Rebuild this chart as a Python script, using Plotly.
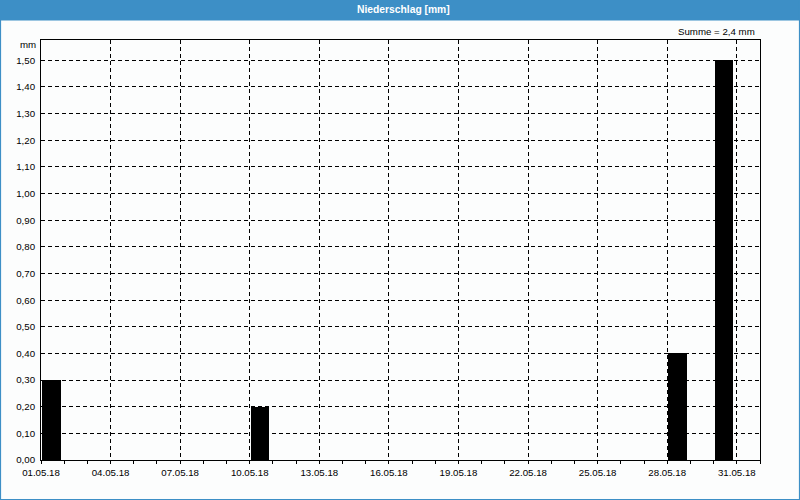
import plotly.graph_objects as go
import pandas as pd

# --- data ---
days = [f"2018-05-{d:02d}" for d in range(1, 32)]
precip_mm = [0.3, 0, 0, 0, 0, 0, 0, 0, 0, 0.2,
             0, 0, 0, 0, 0, 0, 0, 0, 0, 0,
             0, 0, 0, 0, 0, 0, 0, 0.4, 0, 1.5,
             0]
title_text = "Niederschlag [mm]"
unit_label = "mm"
total = sum(precip_mm)
sum_text = "Summe = " + f"{total:.1f}".replace(".", ",") + " mm"

DAY_MS = 86400000
W, H = 800, 500
ML, MR, MT, MB = 41, 40, 40, 40
PW, PH = W - ML - MR, H - MT - MB

def px_x(p):
    return (p - ML) / PW

def px_y(p):
    return (H - MB - p) / PH

FONT = "Liberation Sans"
fig = go.Figure()
fig.add_trace(go.Bar(
    x=days, y=precip_mm,
    width=0.8 * DAY_MS, offset=0.05 * DAY_MS,
    marker=dict(color="#000000", line=dict(width=0)),
    hoverinfo="x+y",
))

fig.update_layout(
    width=W, height=H,
    margin=dict(l=ML, r=MR, t=MT, b=MB, pad=0),
    paper_bgcolor="#fcfdfd", plot_bgcolor="#fcfdfd",
    separators=",.",
    showlegend=False,
    font=dict(family=FONT, size=9.7, color="#000000"),
    bargap=0,
)

fig.update_xaxes(
    type="date",
    range=["2018-05-01", "2018-06-01"],
    tick0="2018-05-01", dtick=3 * DAY_MS,
    tickformat="%d.%m.%y",
    ticks="outside", ticklen=3, tickcolor="#000000", tickwidth=1,
    showgrid=True, gridcolor="#000000", gridwidth=1, griddash="4px,3px",
    showline=True, linecolor="#000000", linewidth=1, mirror=True,
    zeroline=False,
    minor=dict(dtick=DAY_MS, tick0="2018-05-01", ticks="outside", ticklen=3,
               tickcolor="#000000", showgrid=False),
    tickfont=dict(family=FONT, size=9.7, color="#000000"),
)

fig.update_yaxes(
    range=[0, 1.576],
    tick0=0, dtick=0.1,
    tickformat=".2f",
    ticks="", ticklabelstandoff=3,
    showgrid=True, gridcolor="#000000", gridwidth=1, griddash="4px,3px",
    showline=True, linecolor="#000000", linewidth=1, mirror=True,
    zeroline=False,
    tickfont=dict(family=FONT, size=9.7, color="#000000"),
)

# title bar + frame
fig.add_shape(type="rect", xref="paper", yref="paper",
              x0=px_x(0), x1=px_x(W), y0=px_y(20.5), y1=px_y(0),
              fillcolor="#3d8fc6", line=dict(width=0), layer="below")
fig.add_shape(type="rect", xref="paper", yref="paper",
              x0=px_x(0.5), x1=px_x(W - 0.5), y0=px_y(H - 0.5), y1=px_y(0.5),
              fillcolor="rgba(0,0,0,0)", line=dict(color="#3d8fc6", width=1.2))

fig.add_annotation(text="<b>" + title_text + "</b>", xref="paper", yref="paper",
                   x=px_x(403), y=px_y(9.5), xanchor="center", yanchor="middle",
                   showarrow=False, font=dict(family=FONT, size=10.3, color="#ffffff"))
fig.add_annotation(text=sum_text, xref="paper", yref="paper",
                   x=px_x(756.5), y=px_y(31), xanchor="right", yanchor="middle",
                   showarrow=False, font=dict(family=FONT, size=9.7, color="#000000"))
fig.add_annotation(text=unit_label, xref="paper", yref="paper",
                   x=px_x(37.5), y=px_y(45), xanchor="right", yanchor="middle",
                   showarrow=False, font=dict(family=FONT, size=9.7, color="#000000"))

fig.write_html("out.html")
